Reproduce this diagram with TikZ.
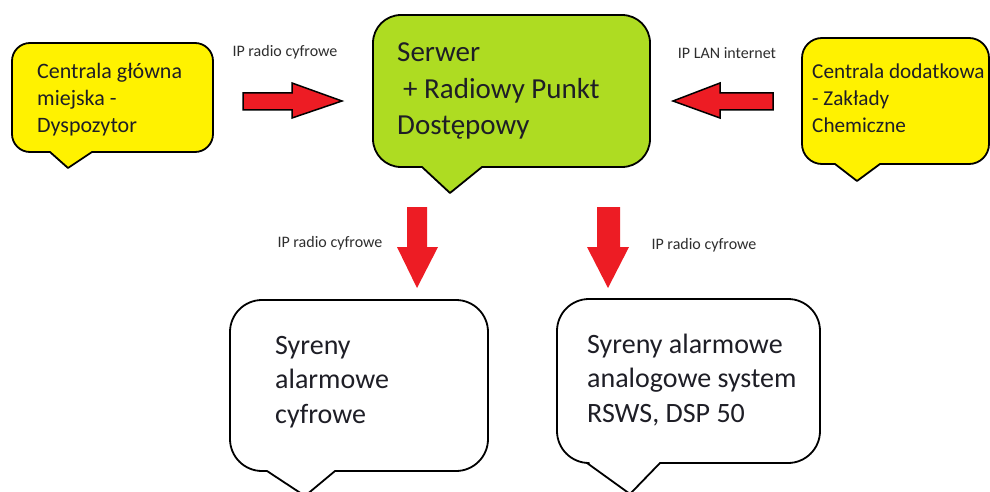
\documentclass[tikz,border=0pt]{standalone}
\usepackage{fontspec}
\setmainfont{Carlito}

\definecolor{bubyellow}{HTML}{FFF200}
\definecolor{bubgreen}{HTML}{AEDC22}
\definecolor{arrred}{HTML}{ED1C24}
\definecolor{txtdark}{HTML}{1E1E26}
\definecolor{lbldark}{HTML}{2E2E2E}

% speech bubble: #1 fill, #2 left, #3 top, #4 right, #5 bottom,
% #6 tail base left, #7 tail tip x, #8 tail base right, #9 tail tip y
\newcommand{\bubr}{20}
\newcommand{\bubble}[9]{%
  \draw[bubbleline, fill=#1]
    (#2,#3+\bubr) arc[start angle=180, end angle=270, radius=\bubr]
    -- (#4-\bubr,#3) arc[start angle=270, end angle=360, radius=\bubr]
    -- (#4,#5-\bubr) arc[start angle=0, end angle=90, radius=\bubr]
    -- (#8,#5) -- (#7,#9) -- (#6,#5)
    -- (#2+\bubr,#5) arc[start angle=90, end angle=180, radius=\bubr]
    -- cycle;}

% text nodes are placed by the baseline of their last line
\tikzset{
  bubbleline/.style={draw=black, line width=1.8pt, line join=round},
  smalltxt/.style={font=\fontsize{22}{27}\selectfont, text=txtdark, align=left, inner sep=0pt, anchor=base west},
  bigtxt/.style={font=\fontsize{29}{36.5}\selectfont, text=txtdark, align=left, inner sep=0pt, anchor=base west},
  sirentxt/.style={font=\fontsize{28}{34.5}\selectfont, text=txtdark, align=left, inner sep=0pt, anchor=base west},
  linklbl/.style={font=\fontsize{16}{18}\selectfont, text=lbldark, inner sep=0pt},
  sidearrow/.style={fill=arrred, draw=black, line width=1.5pt, line join=miter},
  downarrow/.style={fill=arrred},
}

\begin{document}
\begin{tikzpicture}[x=1pt, y=-1pt]
  \useasboundingbox (0,0) rectangle (990,492);
  \clip (0,0) rectangle (990,492);
  \fill[white] (0,0) rectangle (990,492);

  % bubbles
  \renewcommand{\bubr}{18}
  \bubble{bubyellow}{12}{43}{213}{152}{50}{68}{92}{168}
  \renewcommand{\bubr}{28}
  \bubble{bubgreen}{373}{15}{650}{167}{422}{450}{482}{193}
  \renewcommand{\bubr}{20}
  \bubble{bubyellow}{802}{38}{989}{164}{835}{857}{880}{181}
  \renewcommand{\bubr}{32}
  \bubble{white}{230}{300}{488}{471}{267}{305}{335}{496}
  \bubble{white}{557}{299}{820}{463}{587}{630}{660}{494}

  % bubble texts
  \node[smalltxt] (dispatch) at (37,132) {Centrala główna\\miejska -\\Dyspozytor};
  \node[bigtxt] (server) at (397,135) {Serwer\\\hspace*{6pt}+ Radiowy Punkt\\Dostępowy};
  \node[smalltxt, font=\fontsize{21.2}{27}\selectfont] (chem) at (812,132) {Centrala dodatkowa\\- Zakłady\\Chemiczne};
  \node[sirentxt] (digital) at (275,423) {Syreny\\alarmowe\\cyfrowe};
  \node[sirentxt] (analog) at (587,422) {Syreny alarmowe\\analogowe system\\RSWS, DSP 50};

  % link labels
  \node[linklbl] (lblA) at (285,52) {IP radio cyfrowe};
  \node[linklbl] (lblB) at (727,53) {IP LAN internet};
  \node[linklbl] (lblC) at (330,243) {IP radio cyfrowe};
  \node[linklbl] (lblD) at (704,245) {IP radio cyfrowe};

  % block arrows
  \draw[sidearrow] (243,93) -- (292,93) -- (292,83) -- (342,101) -- (292,118) -- (292,110) -- (243,110) -- cycle;
  \draw[sidearrow] (773,93) -- (720,93) -- (720,83) -- (673,101) -- (720,118) -- (720,110) -- (773,110) -- cycle;
  \fill[downarrow] (407,207) -- (427,207) -- (427,247) -- (438,247) -- (417,288) -- (397,247) -- (407,247) -- cycle;
  \fill[downarrow] (597,207) -- (620,207) -- (620,247) -- (629,247) -- (608,288) -- (587,247) -- (597,247) -- cycle;
\end{tikzpicture}
\end{document}
